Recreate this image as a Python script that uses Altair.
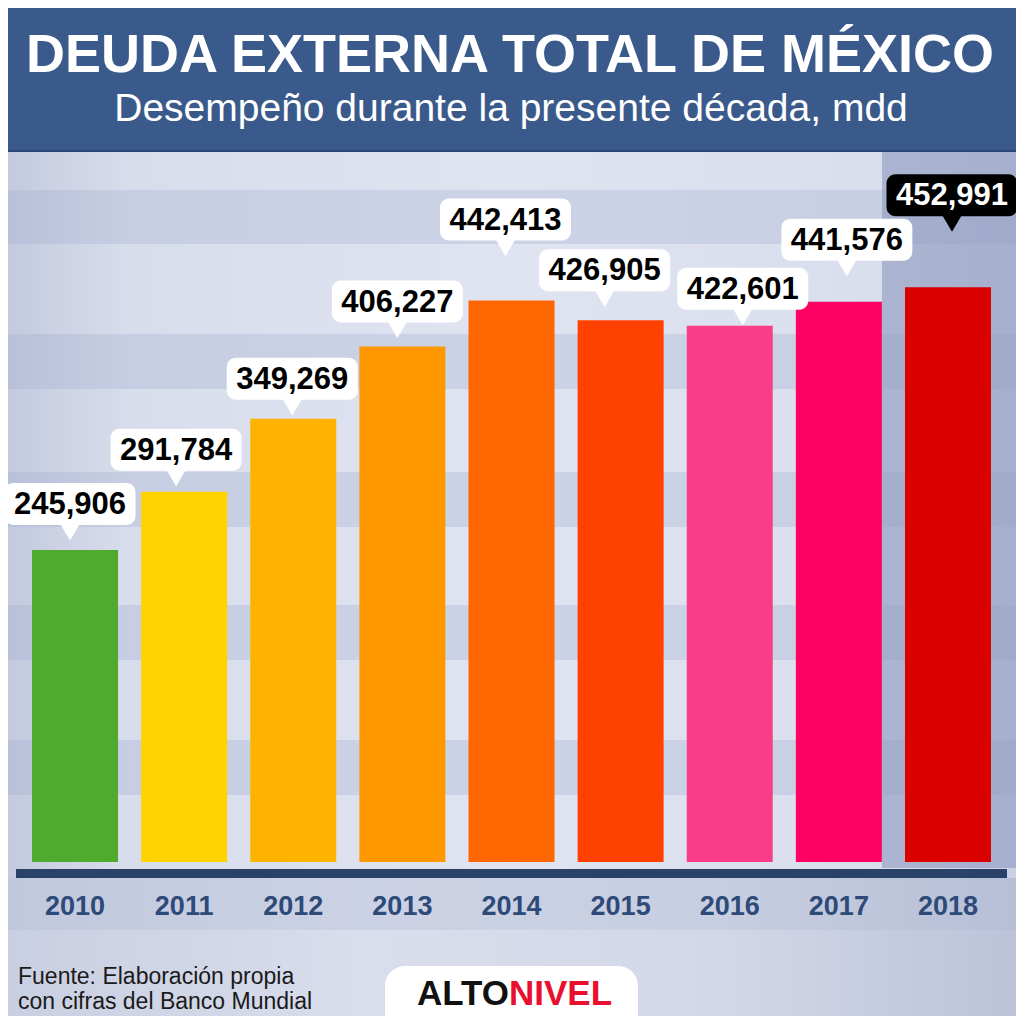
import altair as alt
import pandas as pd

# ---------------- data ----------------
years = [2010, 2011, 2012, 2013, 2014, 2015, 2016, 2017, 2018]
values = [245906, 291784, 349269, 406227, 442413, 426905, 422601, 441576, 452991]
bar_colors = ["#4faa2e", "#fed300", "#feb300", "#ff9800", "#ff6600",
              "#ff4100", "#f93e87", "#fe0163", "#db0000"]
highlight_year = 2018

title = "DEUDA EXTERNA TOTAL DE MÉXICO"
subtitle = "Desempeño durante la presente década, mdd"
source_lines = ["Fuente: Elaboración propia", "con cifras del Banco Mundial"]
logo_a, logo_b = "ALTO", "NIVEL"

# ---------------- layout (pixels) ----------------
W = H = 1008
BASE_PX = 854                 # pixel row of the zero line
Y_MAX = 673000                # value at the top of the canvas
X_RANGE = [12.45, 994.55]
X_DOMAIN = [2009.5, 2018.5]
YPP = Y_MAX / BASE_PX                       # value units per pixel
XPP = (X_DOMAIN[1] - X_DOMAIN[0]) / (X_RANGE[1] - X_RANGE[0])

# callout placement: gap between bar top and callout bottom, horizontal nudge
callout_gap = [25, 21, 19, 24, 60, 29, 16, 41, 71]
callout_shift = [-5, -8, -1, -5, -6, -16, 13, 8, 4]
BOX_W, BOX_H = 131, 42

FONT = "Liberation Sans"

df = pd.DataFrame({"year": years, "value": values,
                   "gap": callout_gap, "shift": callout_shift})

x_scale = alt.Scale(domain=X_DOMAIN, range=X_RANGE, nice=False, zero=False,
                    padding=0)
y_scale = alt.Scale(domain=[0, Y_MAX], range=[BASE_PX, 0], nice=False,
                    padding=0)

one = alt.InlineData(values=[{"k": 1}])


def box(x0, x1, y0, y1, **mk):
    return alt.Chart(one).mark_rect(**mk).encode(
        x=alt.value(x0), x2=alt.value(x1), y=alt.value(y0), y2=alt.value(y1))


def label(txt, x, y, **mk):
    return alt.Chart(one).mark_text(text=txt, font=FONT, **mk).encode(
        x=alt.value(x), y=alt.value(y))


def grad(stops, x1=0, y1=0, x2=1, y2=0):
    return {"gradient": "linear", "x1": x1, "y1": y1, "x2": x2, "y2": y2,
            "stops": [{"offset": o, "color": c} for o, c in stops]}


layers = []
# background of the plot area
layers.append(box(0, W, 0, H, fill=grad([(0, "#c4cadf"), (0.12, "#d8ddec"),
                                           (0.5, "#e0e4f1"), (0.88, "#d9deed"),
                                           (1, "#ccd2e5")])))
# horizontal stripes
for a, b in [(182, 236), (326, 381), (464, 519), (597, 652), (732, 787)]:
    layers.append(box(0, W, a, b, fill="#9fabcc", opacity=0.3))
# highlighted column behind the last bar
layers.append(box(874, W, 144, 860, fill="#8e9bc0", opacity=0.62))
# area below the axis
layers.append(box(0, W, 870, H, fill=grad([(0, "#c9cfe2"), (0.35, "#d9ddec"),
                                             (0.7, "#d3d8e8"), (1, "#bcc3d9")])))
layers.append(box(0, W, 870, 922, fill="#a9b3d1", opacity=0.25))
# axis line
layers.append(box(8, 999, 861, 870, fill="#2a4268"))

base = alt.Chart(df).transform_calculate(
    lx=f"datum.year + datum.shift * {XPP}",
    ly=f"datum.value + datum.gap * {YPP}",
).transform_calculate(
    bx1=f"datum.lx - {BOX_W / 2 * XPP}",
    bx2=f"datum.lx + {BOX_W / 2 * XPP}",
    by2=f"datum.ly + {BOX_H * YPP}",
)

is_hi = alt.datum.year == highlight_year

bars = base.mark_bar(width=86, orient="vertical").encode(
    x=alt.X("year:Q", scale=x_scale, axis=None),
    y=alt.Y("value:Q", scale=y_scale, axis=None),
    y2=alt.datum(0),
    color=alt.Color("year:N", scale=alt.Scale(domain=years, range=bar_colors),
                    legend=None),
)

callout_box = base.mark_rect(cornerRadius=9).encode(
    x=alt.X("bx1:Q", scale=x_scale, axis=None), x2="bx2:Q",
    y=alt.Y("ly:Q", scale=y_scale, axis=None), y2="by2:Q",
    color=alt.condition(is_hi, alt.value("#000000"), alt.value("#ffffff")),
)

callout_tip = base.mark_point(
    shape="M-1,-1L1,-1L0,0.7Z", size=676, filled=True, opacity=1,
    strokeWidth=0, yOffset=6.5,
).encode(
    x=alt.X("lx:Q", scale=x_scale, axis=None),
    y=alt.Y("ly:Q", scale=y_scale, axis=None),
    color=alt.condition(is_hi, alt.value("#000000"), alt.value("#ffffff")),
)

callout_text = base.mark_text(
    font=FONT, fontSize=31, fontWeight="bold", baseline="middle", yOffset=-20,
).encode(
    x=alt.X("lx:Q", scale=x_scale, axis=None),
    y=alt.Y("ly:Q", scale=y_scale, axis=None),
    text=alt.Text("value:Q", format=",d"),
    color=alt.condition(is_hi, alt.value("#ffffff"), alt.value("#000000")),
)

year_text = base.mark_text(
    font=FONT, fontSize=27, fontWeight="bold", baseline="middle", color="#2d4a78",
).encode(
    x=alt.X("year:Q", scale=x_scale, axis=None),
    y=alt.value(899),
    text="year:N",
)

layers += [bars, callout_box, callout_tip, callout_text, year_text]

# header
layers.append(box(0, W, 0, 144, fill="#3a5a8c"))
layers.append(box(0, W, 142, 144, fill="#2c4775"))
layers.append(label(title, 502, 64, fontSize=54, fontWeight="bold",
                    color="#ffffff", align="center", baseline="alphabetic"))
layers.append(label(subtitle, 503, 113, fontSize=39, color="#ffffff",
                    align="center", baseline="alphabetic"))

# footer
layers.append(label(source_lines[0], 10, 976, fontSize=23, color="#1a1a1a",
                    align="left", baseline="alphabetic"))
layers.append(label(source_lines[1], 10, 1001, fontSize=23, color="#1a1a1a",
                    align="left", baseline="alphabetic"))
layers.append(box(377, 630, 958, 1040, fill="#ffffff",
                  cornerRadiusTopLeft=20, cornerRadiusTopRight=20))
layers.append(label(logo_a, 501, 997, fontSize=35, fontWeight="bold",
                    color="#111111", align="right", baseline="alphabetic"))
layers.append(label(logo_b, 501, 997, fontSize=35, fontWeight="bold",
                    color="#e8102e", align="left", baseline="alphabetic"))

chart = alt.layer(*layers).properties(
    width=W, height=H, padding=0,
    autosize=alt.AutoSizeParams(type="none"),
).configure_view(stroke=None)

chart.save("out.html", embed_options={"renderer": "svg", "actions": False})
